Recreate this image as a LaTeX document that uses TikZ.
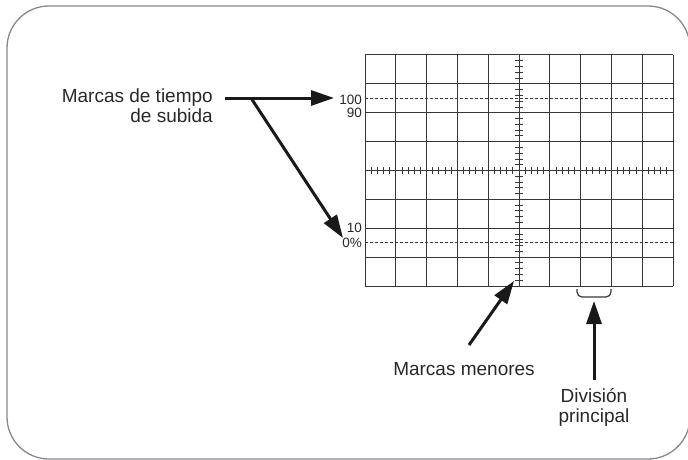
\documentclass[tikz,border=0pt]{standalone}
\usepackage{fontspec}
\setmainfont{Liberation Sans}
\usetikzlibrary{arrows.meta}
\definecolor{frame}{RGB}{135,135,142}
\definecolor{gridc}{RGB}{55,55,55}
\definecolor{txt}{RGB}{40,40,40}
\definecolor{arr}{RGB}{25,25,25}
\tikzset{
  big/.style={font=\fontsize{19}{20}\selectfont, text=txt, inner sep=0pt},
  small/.style={font=\fontsize{13.5}{13.5}\selectfont, text=txt, inner sep=0pt},
  gline/.style={draw=gridc, line width=1pt},
  dline/.style={draw=gridc, line width=1pt, dash pattern=on 2.5pt off 2.5pt},
  tick/.style={draw=gridc, line width=0.9pt},
  bigarrow/.style={draw=arr, line width=3pt, -{Triangle[length=23pt,width=15pt]}},
}
\begin{document}
\begin{tikzpicture}[x=1pt,y=-1pt]
\useasboundingbox (0,0) rectangle (688,460);
\begin{scope}
\clip (0,0) rectangle (688,460);
\draw[frame, line width=1.3pt, rounded corners=42pt] (7,6) rectangle (690,459);
\end{scope}
% grid
\def\gx{365}\def\gy{55}\def\cw{30.8}\def\rh{28.875}
\foreach \i in {0,...,10} \draw[gline] ({\gx+\i*\cw},\gy) -- ({\gx+\i*\cw},{\gy+8*\rh});
\foreach \j in {0,...,8} \draw[gline] (\gx,{\gy+\j*\rh}) -- ({\gx+10*\cw},{\gy+\j*\rh});
% dashed 0% and 100%
\draw[dline] (\gx,{\gy+1.5*\rh}) -- ({\gx+10*\cw},{\gy+1.5*\rh});
\draw[dline] (\gx,{\gy+6.5*\rh}) -- ({\gx+10*\cw},{\gy+6.5*\rh});
% minor ticks on the central axes
\foreach \k in {1,...,39} \draw[tick] ({\gx+5*\cw-4},{\gy+\k*\rh/5}) -- ({\gx+5*\cw+4},{\gy+\k*\rh/5});
\foreach \k in {1,...,49} \draw[tick] ({\gx+\k*\cw/5},{\gy+4*\rh-3.5}) -- ({\gx+\k*\cw/5},{\gy+4*\rh+3.5});
% level labels
\node[small, anchor=east] (l100) at (362,99.5) {100};
\node[small, anchor=east] (l90) at (362,113) {90};
\node[small, anchor=east] (l10) at (362,227.5) {10};
\node[small, anchor=east] (l0) at (362,243) {0\%};
% bracket for main division
\draw[draw=gridc, line width=1.2pt, rounded corners=5pt] (577,289) -- (577,297) -- (611,297) -- (611,289);
% texts
\node[big, align=right, anchor=north east] (rise) at (213,89) {Marcas de tiempo\\de subida};
\node[big, anchor=base] (minor) at (464,375) {Marcas menores};
\node[big, align=center, anchor=north] (major) at (594,388) {División\\principal};
% arrows
\coordinate (rs) at (225,98);
\coordinate (split) at (251,98);
\coordinate (t100) at (334,98);
\coordinate (t0) at (343,238);
\coordinate (ms) at (469,345);
\coordinate (mt) at (514,281);
\coordinate (ds) at (594,380);
\coordinate (dt) at (594,301);
\draw[bigarrow] (rs) -- (t100);
\draw[bigarrow] (split) -- (t0);
\draw[bigarrow] (ms) -- (mt);
\draw[bigarrow] (ds) -- (dt);
\end{tikzpicture}
\end{document}
